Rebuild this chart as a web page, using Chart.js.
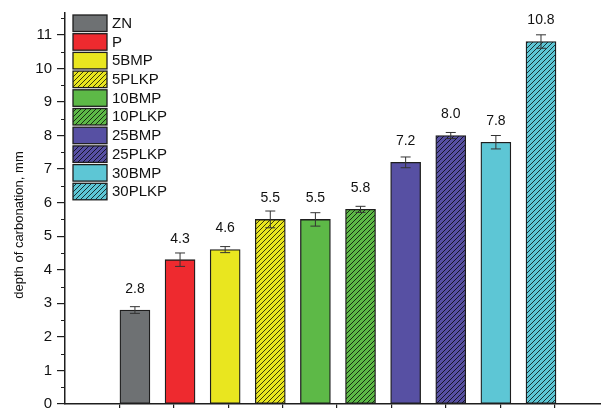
<!DOCTYPE html>
<html>
<head>
<meta charset="utf-8">
<script src="https://cdn.jsdelivr.net/npm/chart.js@4.4.0/dist/chart.umd.min.js"></script>
<style>
  body { margin: 0; background: #fff; }
  canvas { display: block; }
</style>
</head>
<body>
<canvas id="mycanvas" width="601" height="408"></canvas>
<script>
// data
var categories = ['ZN', 'P', '5BMP', '5PLKP', '10BMP', '10PLKP', '25BMP', '25PLKP', '30BMP', '30PLKP'];
var depth = [2.8, 4.3, 4.6, 5.5, 5.5, 5.8, 7.2, 8.0, 7.8, 10.8];
var errors = [0.1, 0.2, 0.09, 0.25, 0.2, 0.09, 0.16, 0.09, 0.2, 0.2];
var colors = ['#6e7173', '#ee2a2f', '#e9e61f', '#e9e61f', '#5db947', '#5db947', '#5750a3', '#5750a3', '#5dc6d5', '#5dc6d5'];
var hatched = [false, false, false, true, false, true, false, true, false, true];
var yTicks = [0, 1, 2, 3, 4, 5, 6, 7, 8, 9, 10, 11];
var yTitle = 'depth of carbonation, mm';

var FONT = '"Liberation Sans", Arial, sans-serif';
var EDGE = '#1e1e1e';

function hatch(color) {
    var c = document.createElement('canvas');
    c.width = 5; c.height = 5;
    var g = c.getContext('2d');
    g.fillStyle = color;
    g.fillRect(0, 0, 5, 5);
    g.strokeStyle = 'rgba(0,0,0,0.75)';
    g.lineWidth = 1;
    g.beginPath();
    g.moveTo(-1, 6); g.lineTo(6, -1);
    g.moveTo(-1, 1); g.lineTo(1, -1);
    g.moveTo(4, 6); g.lineTo(6, 4);
    g.stroke();
    return g.createPattern(c, 'repeat');
}

var fills = [];
for (var i in colors) {
    fills.push(hatched[i] ? hatch(colors[i]) : colors[i]);
}

var datasets = [];
for (var i = 0; i < categories.length; i++) {
    datasets.push({
        label: categories[i],
        data: [{ x: i, y: depth[i] }],
        backgroundColor: fills[i],
        borderColor: EDGE,
        borderWidth: 1.3,
        borderSkipped: false,
        grouped: false,
        barThickness: 30
    });
}

var extras = {
    id: 'extras',
    afterDatasetsDraw: function(chart) {
        var ctx = chart.ctx;
        var ys = chart.scales.y;
        ctx.save();
        // error bars and value labels
        for (var i = 0; i < categories.length; i++) {
            var bar = chart.getDatasetMeta(i).data[0];
            var x = bar.x;
            var top = ys.getPixelForValue(depth[i] + errors[i]);
            var bot = ys.getPixelForValue(depth[i] - errors[i]);
            ctx.strokeStyle = '#333';
            ctx.lineWidth = 1;
            ctx.beginPath();
            ctx.moveTo(x, top); ctx.lineTo(x, bot);
            ctx.moveTo(x - 5, top); ctx.lineTo(x + 5, top);
            ctx.moveTo(x - 5, bot); ctx.lineTo(x + 5, bot);
            ctx.stroke();

            ctx.fillStyle = '#111';
            ctx.font = '14px ' + FONT;
            ctx.textAlign = 'center';
            ctx.textBaseline = 'middle';
            ctx.fillText(depth[i].toFixed(1), x, ys.getPixelForValue(depth[i]) - 21);
        }

        // minor ticks on y axis
        var left = chart.chartArea.left;
        ctx.strokeStyle = EDGE;
        ctx.lineWidth = 1.2;
        ctx.beginPath();
        for (var v = 0.5; v < ys.max; v += 1) {
            var py = Math.round(ys.getPixelForValue(v)) + 0.5;
            ctx.moveTo(left - 4, py); ctx.lineTo(left, py);
        }
        ctx.stroke();

        // legend
        ctx.font = '15px ' + FONT;
        ctx.textAlign = 'left';
        ctx.textBaseline = 'middle';
        for (var i = 0; i < categories.length; i++) {
            var ty = 15 + i * 18.7;
            ctx.fillStyle = fills[i];
            ctx.fillRect(73, ty, 34, 16.5);
            ctx.strokeStyle = EDGE;
            ctx.lineWidth = 1.3;
            ctx.strokeRect(73, ty, 34, 16.5);
            ctx.fillStyle = '#111';
            ctx.fillText(categories[i], 112, ty + 8.8);
        }

        // y axis title
        ctx.translate(19, 225);
        ctx.rotate(-Math.PI / 2);
        ctx.textAlign = 'center';
        ctx.font = '13px ' + FONT;
        ctx.fillText(yTitle, 0, 0);
        ctx.restore();
    }
};

var ctx = document.getElementById('mycanvas');

var BarGraph = new Chart(ctx, {
    type: 'bar',
    data: { datasets: datasets },
    options: {
        responsive: false,
        animation: false,
        layout: { padding: { top: 13, right: 0, left: 0, bottom: 0 } },
        plugins: {
            legend: { display: false },
            tooltip: { enabled: false }
        },
        scales: {
            x: {
                type: 'linear',
                offset: false,
                min: -1.55,
                max: 10.33,
                border: { display: true, color: EDGE, width: 1.5 },
                grid: { drawOnChartArea: false, drawTicks: true, tickLength: 6, color: EDGE, lineWidth: 1.2, offset: false },
                ticks: { display: false },
                afterBuildTicks: function(scale) {
                    var t = [];
                    for (var k = 1; k <= 9; k++) t.push({ value: -1.55 + k * 1.206 });
                    scale.ticks = t;
                },
                afterFit: function(scale) { scale.height = 4; }
            },
            y: {
                min: 0,
                max: 11.65,
                border: { display: true, color: EDGE, width: 1.5 },
                grid: { drawOnChartArea: false, drawTicks: true, tickLength: 8, color: EDGE, lineWidth: 1.2 },
                ticks: { color: '#111', font: { size: 15, family: FONT }, padding: 5 },
                afterBuildTicks: function(scale) {
                    scale.ticks = yTicks.map(function(v) { return { value: v }; });
                },
                afterFit: function(scale) {
                    scale.width = 65;
                    scale.paddingTop = 0;
                    scale.paddingBottom = 0;
                }
            }
        }
    },
    plugins: [extras]
});
</script>
</body>
</html>
